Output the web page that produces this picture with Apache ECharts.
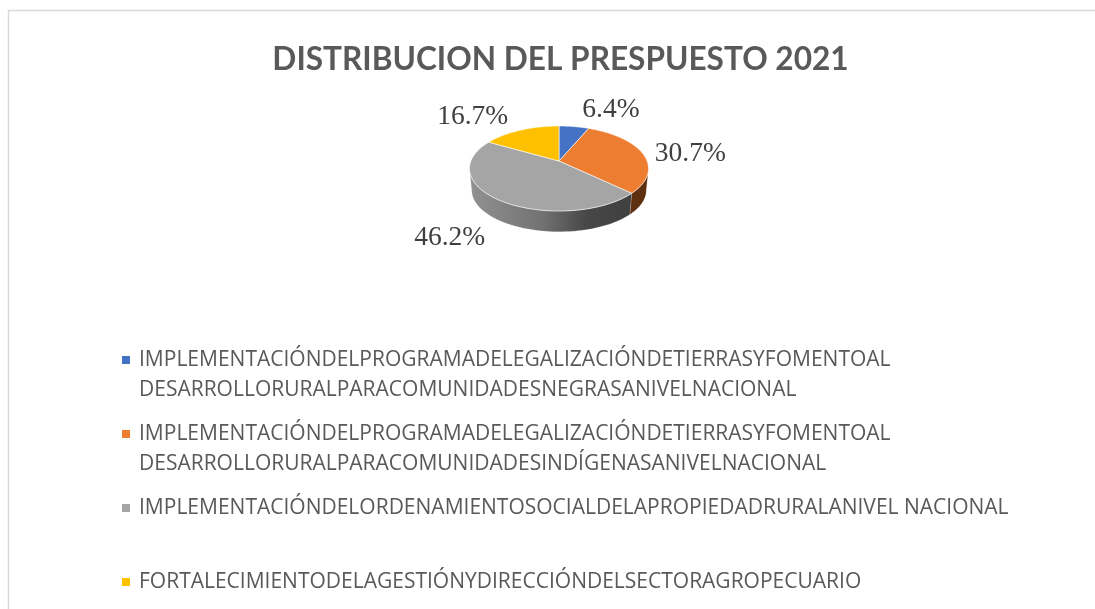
<!DOCTYPE html>
<html><head><meta charset="utf-8">
<style>html,body{margin:0;padding:0;background:#fff}#c{width:1095px;height:609px}</style>
<script src="https://cdn.jsdelivr.net/npm/echarts@6/dist/echarts.min.js"></script>
</head><body><div id="c"></div>
<script>
const titleText = 'DISTRIBUCION DEL PRESPUESTO 2021';
const categories = [
  'IMPLEMENTACIÓNDELPROGRAMADELEGALIZACIÓNDETIERRASYFOMENTOAL\nDESARROLLORURALPARACOMUNIDADESNEGRASANIVELNACIONAL',
  'IMPLEMENTACIÓNDELPROGRAMADELEGALIZACIÓNDETIERRASYFOMENTOAL\nDESARROLLORURALPARACOMUNIDADESINDÍGENASANIVELNACIONAL',
  'IMPLEMENTACIÓNDELORDENAMIENTOSOCIALDELAPROPIEDADRURALANIVEL NACIONAL',
  'FORTALECIMIENTODELAGESTIÓNYDIRECCIÓNDELSECTORAGROPECUARIO'
];
const shares = [6.4, 30.7, 46.2, 16.7];
const colors = ['#4472C4', '#ED7D31', '#A5A5A5', '#FFC000'];

// Projection of the tilted disc: outline ellipse, perspective of its centre, wall depth.
const CX = 559, CY = 168.5, RX = 89.5, RY = 42.5, P = -0.176, DEPTH = 21.8, BASE = 0.975;
const LABEL_NUDGE = [[37, -17], [48, 1], [-48, 38], [-48, -13]];
const total = shares.reduce((a, b) => a + b, 0);

function rim(frac) {
  const t = frac * 2 * Math.PI, u = Math.sin(t), v = -Math.cos(t), d = 1 + P * v;
  return { u: u * Math.sqrt(1 - P * P) / d, v: (v + P) / d };
}
const top_ = r => [CX + RX * r.u, CY + RY * r.v];
const low = r => [CX + RX * BASE * r.u, CY + RY * BASE * r.v + DEPTH];
const apex = [CX, CY + RY * P];

const wallFill = [
  '#2d4f8c',
  '#5e3010',
  { type: 'linear', x: 0, y: 0, x2: 1, y2: 0, colorStops: [
    { offset: 0, color: '#929292' }, { offset: 0.45, color: '#727272' },
    { offset: 0.72, color: '#474747' }, { offset: 1, color: '#3f3f3f' } ] },
  '#b38600'
];

function renderSlice(params, api) {
  const i = params.seriesIndex;
  const start = shares.slice(0, i).reduce((a, b) => a + b, 0) / total;
  const end = start + api.value(0) / total;
  const n = 90, rimPts = [], front = [];
  for (let k = 0; k <= n; k++) {
    const r = rim(start + (end - start) * k / n);
    rimPts.push(top_(r));
    if (r.v >= 0) front.push(r);
  }
  const children = [];
  if (front.length > 1) {
    const pts = front.map(top_).concat(front.slice().reverse().map(low));
    children.push({ type: 'polygon', shape: { points: pts },
      style: { fill: wallFill[i], stroke: 'rgba(255,255,255,0.35)', lineWidth: 0.5 } });
  }
  children.push({ type: 'polygon', shape: { points: [apex].concat(rimPts) },
    style: { fill: api.visual('color'), stroke: 'rgba(255,255,255,0.75)', lineWidth: 0.8 } });
  const m = top_(rim((start + end) / 2));
  children.push({ type: 'text', style: {
    x: m[0] + LABEL_NUDGE[i][0], y: m[1] + LABEL_NUDGE[i][1],
    text: api.value(0).toFixed(1) + '%', align: 'center', verticalAlign: 'middle',
    fontFamily: 'Liberation Serif', fontSize: 27.5, fill: '#404040' } });
  return { type: 'group', children };
}

const chart = echarts.init(document.getElementById('c'), null, { renderer: 'canvas' });
chart.setOption({
  animation: false,
  backgroundColor: '#ffffff',
  color: colors,
  title: { text: titleText, left: 555.5, textAlign: 'center', top: 39,
    textStyle: { fontFamily: 'Lato', fontWeight: 'bold', fontSize: 31.6, color: '#595959' } },
  legend: { orient: 'vertical', left: 122, top: 315, padding: 0, height: 700, icon: 'rect', itemWidth: 8, itemHeight: 8,
    itemGap: -16, selectedMode: false,
    // A blank first line centres the marker on the first text line; all entries take three lines.
    formatter: name => ' \n' + name + (name.includes('\n') ? '' : '\n '),
    textStyle: { fontFamily: 'Open Sans', fontSize: 21, color: '#595959', lineHeight: 30, padding: [0, 0, 0, 4] } },
  graphic: [{ type: 'rect', silent: true, z: -1, shape: { x: 8.5, y: 10.5, width: 1300, height: 900 },
    style: { fill: 'none', stroke: '#d9d9d9', lineWidth: 1.5 } }],
  series: categories.map((name, i) => ({
    type: 'custom', name, coordinateSystem: 'none', renderItem: renderSlice,
    data: [[shares[i]]], encode: { value: 0 }, silent: true
  }))
});
</script></body></html>
